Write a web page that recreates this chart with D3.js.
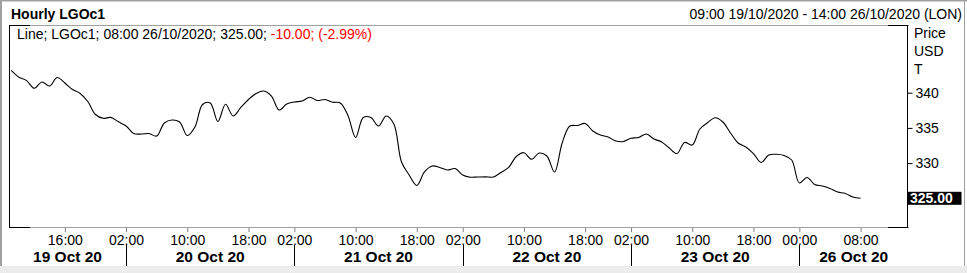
<!DOCTYPE html>
<html><head><meta charset="utf-8">
<script src="https://cdn.jsdelivr.net/npm/d3@7/dist/d3.min.js"></script>
<style>
html,body{margin:0;padding:0;background:#fff;}
svg{display:block;font-family:"Liberation Sans",Arial,sans-serif;}
</style></head>
<body><svg id="c" width="967" height="273"></svg>
<script>
// ---- data (hourly bars, index = trading-hour position) ----
const prices = [
 343.17,342.20,341.72,340.63,341.52,340.95,342.16,341.38,340.45,339.89,
 338.75,336.90,336.36,336.49,335.87,335.27,334.20,334.13,334.20,333.85,
 335.70,336.12,335.84,333.92,335.13,338.32,338.54,335.91,338.35,336.69,
 337.90,339.03,339.89,340.24,339.53,337.54,338.39,338.68,338.82,339.35,
 338.89,339.03,338.65,338.54,336.76,333.64,336.48,336.48,335.27,336.69,
 335.55,330.16,328.31,326.82,328.74,329.59,329.38,329.02,329.23,328.31,
 328.00,328.03,328.05,328.03,328.66,329.38,330.94,331.48,330.54,331.43,
 331.01,328.74,332.86,335.27,335.34,335.63,334.56,333.99,333.71,333.14,
 333.07,333.52,333.64,334.13,333.42,333.00,332.14,331.36,332.93,332.57,
 334.84,335.74,336.45,335.84,334.28,332.86,332.29,331.36,330.09,331.15,
 331.25,331.08,330.44,327.17,327.95,326.96,326.75,326.39,325.89,325.68,
 325.18,325.00
];
const tickIndex  = [7,15,23,31,37,45,53,59,67,75,81,89,97,103,111];
const tickLabels = ["16:00","02:00","10:00","18:00","02:00","10:00","18:00","02:00","10:00","18:00","02:00","10:00","18:00","00:00","08:00"];
const dayBreaks  = [15,37,59,81,103];
const dayLabels  = ["19 Oct 20","20 Oct 20","21 Oct 20","22 Oct 20","23 Oct 20","26 Oct 20"];
const xDomain = [-0.3, 117.2];
const yTicks = [330,335,340];
const yLabels = ["Price","USD","T"];
const title = "Hourly LGOc1";
const rangeText = "09:00 19/10/2020 - 14:00 26/10/2020 (LON)";
const lastPrice = 325.00;

// ---- layout ----
const L=9, R=908, T=25, B=227;
const FONT = "Liberation Sans, Arial, sans-serif";
const svg = d3.select("#c");
const x = d3.scaleLinear().domain(xDomain).range([L,R]);
const y = d3.scaleLinear().domain([325,340]).range([198.3,92.7]);

// outer frame
svg.append("rect").attr("x",0).attr("y",266).attr("width",967).attr("height",7).attr("fill","#ececec");
svg.append("line").attr("x1",0).attr("x2",967).attr("y1",0.5).attr("y2",0.5).attr("stroke","#a0a0a0").attr("stroke-width",2);
svg.append("line").attr("x1",1).attr("x2",1).attr("y1",0).attr("y2",266).attr("stroke","#a0a0a0").attr("stroke-width",2);
svg.append("line").attr("x1",964.5).attr("x2",964.5).attr("y1",0).attr("y2",266).attr("stroke","#a0a0a0").attr("stroke-width",1);

// plot frame
const g = svg.append("g");
g.append("line").attr("x1",L).attr("x2",R).attr("y1",T+0.5).attr("y2",T+0.5).attr("stroke","#a0a0a0");
g.append("line").attr("x1",L).attr("x2",R).attr("y1",B+0.5).attr("y2",B+0.5).attr("stroke","#a0a0a0");
[[L,L+21],[R-20,R+0.5]].forEach(([a,b])=>{
  g.append("line").attr("x1",a).attr("x2",b).attr("y1",T+0.5).attr("y2",T+0.5).attr("stroke","#000");
  g.append("line").attr("x1",a).attr("x2",b).attr("y1",B+0.5).attr("y2",B+0.5).attr("stroke","#000");
});
g.append("line").attr("x1",L+0.5).attr("x2",L+0.5).attr("y1",T).attr("y2",B+1).attr("stroke","#000");
g.append("line").attr("x1",R-0.5).attr("x2",R-0.5).attr("y1",T).attr("y2",B+1).attr("stroke","#000");

// titles
svg.append("text").attr("x",11).attr("y",19).attr("font-size",14).attr("font-weight","bold").text(title);
svg.append("text").attr("x",962).attr("y",19).attr("font-size",14).attr("text-anchor","end").text(rangeText);
const info = svg.append("text").attr("x",17).attr("y",39).attr("font-size",14);
info.append("tspan").text("Line; LGOc1; 08:00 26/10/2020; "+lastPrice.toFixed(2)+"; ");
info.append("tspan").attr("fill","#ff0000").text("-10.00; (-2.99%)");

// y axis (right)
yLabels.forEach((t,i)=>svg.append("text").attr("x",914).attr("y",37.5+i*18.2).attr("font-size",14).text(t));
const yAxis = d3.axisRight(y).tickValues(yTicks).tickSize(5).tickPadding(3);
const ya = svg.append("g").attr("transform",`translate(${R-0.5},0)`).call(yAxis);
ya.select(".domain").remove();
ya.selectAll("line").attr("stroke","#000");
ya.selectAll("text").attr("font-size",14).attr("font-family",FONT).attr("fill","#000");

// x axis
const xa = svg.append("g").attr("transform",`translate(0,${B+1})`)
  .call(d3.axisBottom(x).tickValues(tickIndex).tickFormat((d,i)=>tickLabels[i]).tickSize(4).tickPadding(2));
xa.select(".domain").remove();
xa.selectAll("line").attr("stroke","#808080");
xa.selectAll("text").attr("font-size",14).attr("font-family",FONT).attr("fill","#000").attr("dy","0.8em");

// day separators and labels
dayBreaks.forEach(d=>{
  svg.append("line").attr("x1",Math.round(x(d))+0.5).attr("x2",Math.round(x(d))+0.5)
    .attr("y1",245).attr("y2",266).attr("stroke","#000");
});
const bounds = [xDomain[0], ...dayBreaks, xDomain[1]];
dayLabels.forEach((t,i)=>{
  svg.append("text").attr("x",(x(bounds[i])+x(bounds[i+1]))/2).attr("y",261.5)
    .attr("text-anchor","middle").attr("font-size",15.5).attr("font-weight","bold").text(t);
});

// price line
const line = d3.line().x((d,i)=>x(i)).y(d=>y(d)).curve(d3.curveCatmullRom.alpha(0.5));
svg.append("path").datum(prices).attr("d",line).attr("fill","none").attr("stroke","#000").attr("stroke-width",1.1);

// last price box
const ly = y(lastPrice);
svg.append("rect").attr("x",R-0.5).attr("y",ly-6.5).attr("width",54).attr("height",13).attr("fill","#000");
svg.append("text").attr("x",R+2).attr("y",ly+5).attr("font-size",14).attr("font-weight","bold").attr("fill","#fff").text(lastPrice.toFixed(2));
</script></body></html>
